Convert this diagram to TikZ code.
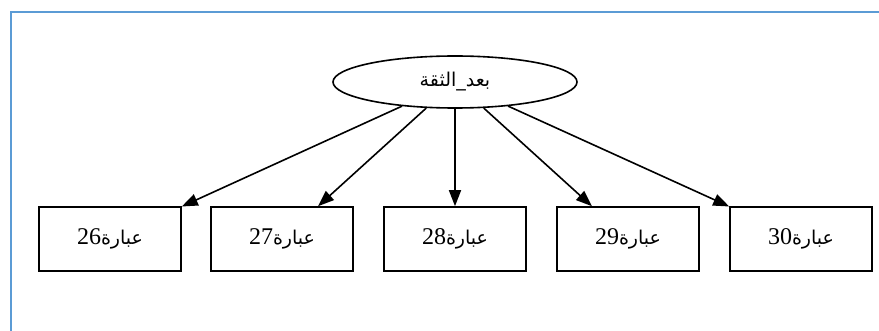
\documentclass[tikz,border=0pt]{standalone}
\usepackage{fontspec}
\usetikzlibrary{arrows.meta,shapes.geometric}
\TeXXeTstate=1
\newfontfamily\arabicfont[Script=Arabic]{DejaVu Sans}
\setmainfont{Liberation Serif}
\definecolor{framebl}{RGB}{91,155,213}
\tikzset{
  itembox/.style={draw=black,line width=1.6pt,minimum width=142pt,minimum height=64pt,inner sep=0pt,font=\fontsize{19}{22}\selectfont},
  latent/.style={draw=black,line width=1.6pt,ellipse,minimum width=244pt,minimum height=52pt,inner sep=0pt,font=\fontsize{19}{22}\selectfont},
  link/.style={line width=1.6pt,-{Triangle[length=16pt,width=12pt]}}
}
\newcommand{\ar}[1]{{\arabicfont\beginR #1\endR}}
\newcommand{\ib}[1]{{\arabicfont\beginR عبارة\beginL{\rmfamily\fontsize{24}{26}\selectfont #1}\endL\endR}}
\begin{document}
\begin{tikzpicture}[x=1pt,y=-1pt]
\useasboundingbox (0,0) rectangle (879,331);
\fill[white] (0,0) rectangle (879,331);
\draw[framebl,line width=2.5pt] (879,12) -- (11,12) -- (11,331);
\node[latent] (e) at (455,82) {\ar{بعد\_الثقة}};
\node[itembox] (b1) at (110,239) {\ib{26}};
\node[itembox] (b2) at (282,239) {\ib{27}};
\node[itembox] (b3) at (455,239) {\ib{28}};
\node[itembox] (b4) at (628,239) {\ib{29}};
\node[itembox] (b5) at (801,239) {\ib{30}};
\foreach \b in {b1,b2,b3,b4,b5} \draw[link] (e) -- (\b);
\end{tikzpicture}
\end{document}
